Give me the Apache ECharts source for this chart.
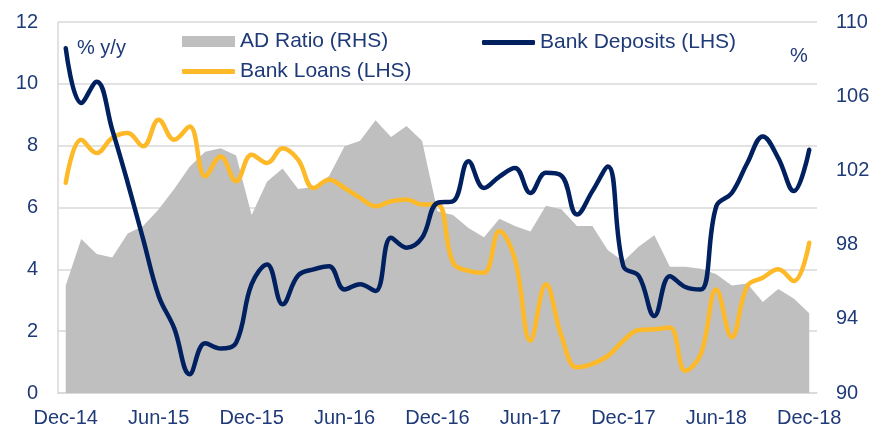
<!DOCTYPE html>
<html>
<head>
<meta charset="utf-8">
<script src="https://cdn.jsdelivr.net/npm/echarts@6/dist/echarts.min.js"></script>
<style>
  html, body { margin: 0; padding: 0; background: #fff; }
  #chart { width: 873px; height: 428px; }
</style>
</head>
<body>
<div id="chart"></div>
<script>
const months = [
  'Dec-14', 'Jan-15', 'Feb-15', 'Mar-15', 'Apr-15', 'May-15', 'Jun-15', 'Jul-15', 'Aug-15', 'Sep-15', 'Oct-15', 'Nov-15',
  'Dec-15', 'Jan-16', 'Feb-16', 'Mar-16', 'Apr-16', 'May-16', 'Jun-16', 'Jul-16', 'Aug-16', 'Sep-16', 'Oct-16', 'Nov-16',
  'Dec-16', 'Jan-17', 'Feb-17', 'Mar-17', 'Apr-17', 'May-17', 'Jun-17', 'Jul-17', 'Aug-17', 'Sep-17', 'Oct-17', 'Nov-17',
  'Dec-17', 'Jan-18', 'Feb-18', 'Mar-18', 'Apr-18', 'May-18', 'Jun-18', 'Jul-18', 'Aug-18', 'Sep-18', 'Oct-18', 'Nov-18',
  'Dec-18'
]

// advances / deposits ratio, right axis (%)
const adRatio = [
  95.8, 98.3, 97.5, 97.3, 98.6, 99.0, 99.9, 101.0, 102.2, 103.0, 103.2, 102.8,
  99.6, 101.4, 102.1, 101.0, 101.1, 101.7, 103.3, 103.6, 104.7, 103.8, 104.4, 103.6,
  99.8, 99.6, 98.9, 98.4, 99.4, 99.0, 98.7, 100.1, 99.9, 99.0, 99.0, 97.7,
  97.1, 97.9, 98.5, 96.8, 96.8, 96.7, 96.4, 95.8, 95.9, 94.9, 95.6, 95.1,
  94.3
]

// % y/y, left axis
const bankDeposits = [
  11.15, 9.38, 10.07, 8.52, 6.8, 4.97, 3.14, 2.1, 0.61, 1.61, 1.44, 1.63,
  3.52, 4.16, 2.87, 3.8, 4.0, 4.1, 3.35, 3.52, 3.3, 5.02, 4.7, 5.02,
  6.15, 6.2, 7.5, 6.63, 7.0, 7.28, 6.47, 7.12, 7.03, 5.77, 6.53, 7.33,
  4.1, 3.78, 2.49, 3.78, 3.43, 3.35, 6.04, 6.47, 7.44, 8.3, 7.6, 6.53,
  7.87
]

const bankLoans = [
  6.8, 8.19, 7.76, 8.25, 8.41, 7.98, 8.84, 8.19, 8.62, 7.01, 7.65, 6.85,
  7.71, 7.44, 7.92, 7.55, 6.63, 6.9, 6.63, 6.31, 6.04, 6.2, 6.26, 6.1,
  6.1, 4.22, 3.95, 3.89, 5.24, 4.32, 1.69, 3.52, 1.85, 0.83, 0.94, 1.2,
  1.69, 2.04, 2.06, 2.12, 0.72, 1.26, 3.35, 1.8, 3.46, 3.73, 4.0, 3.62,
  4.86
]

const leftTicks = { min: 0, max: 12, interval: 2 }
const rightTicks = { min: 90, max: 110, interval: 4 }

const TEXT_COLOR = '#1F3A78'
const NAVY = '#002060'
const GOLD = '#FDB927'
const GREY_AREA = '#BFBFBF'
const GRID_COLOR = '#D9D9D9'
const FONT = 'Liberation Sans'

const chart = echarts.init(document.getElementById('chart'))

const legendBase = {
  orient: 'horizontal',
  padding: 0,
  itemWidth: 53,
  itemGap: 10,
  textStyle: { color: TEXT_COLOR, fontSize: 21, fontFamily: FONT },
  selectedMode: false
}

chart.setOption({
  animation: false,
  grid: { left: 58, right: 56, top: 22, bottom: 34 },
  legend: [
    Object.assign({}, legendBase, {
      left: 182, top: 31, itemHeight: 11,
      data: [{ name: 'AD Ratio (RHS)', icon: 'rect' }]
    }),
    Object.assign({}, legendBase, {
      left: 182, top: 61, itemHeight: 5,
      data: [{ name: 'Bank Loans (LHS)', icon: 'roundRect' }]
    }),
    Object.assign({}, legendBase, {
      left: 482, top: 32, itemHeight: 5,
      data: [{ name: 'Bank Deposits (LHS)', icon: 'roundRect' }]
    })
  ],
  graphic: [
    {
      type: 'text',
      left: 77,
      top: 38,
      style: { text: '% y/y', fill: TEXT_COLOR, fontSize: 20, fontFamily: FONT }
    },
    {
      type: 'text',
      left: 790,
      top: 46,
      style: { text: '%', fill: TEXT_COLOR, fontSize: 20, fontFamily: FONT }
    }
  ],
  xAxis: {
    type: 'category',
    data: months,
    boundaryGap: true,
    axisLine: { show: true, lineStyle: { color: GRID_COLOR, width: 1.5 } },
    axisTick: { show: false },
    axisLabel: {
      interval: 5,
      color: TEXT_COLOR,
      fontSize: 20,
      fontFamily: FONT,
      margin: 15
    },
    splitLine: { show: false }
  },
  yAxis: [
    {
      type: 'value',
      min: leftTicks.min,
      max: leftTicks.max,
      interval: leftTicks.interval,
      axisLine: { show: true, lineStyle: { color: GRID_COLOR, width: 1.5 } },
      axisTick: { show: false },
      axisLabel: { color: TEXT_COLOR, fontSize: 20, fontFamily: FONT, margin: 20 },
      splitLine: { show: true, lineStyle: { color: GRID_COLOR, width: 1.5 } }
    },
    {
      type: 'value',
      position: 'right',
      min: rightTicks.min,
      max: rightTicks.max,
      interval: rightTicks.interval,
      axisLine: { show: false },
      axisTick: { show: false },
      axisLabel: { color: TEXT_COLOR, fontSize: 20, fontFamily: FONT, margin: 19 },
      splitLine: { show: false }
    }
  ],
  series: [
    {
      name: 'AD Ratio (RHS)',
      type: 'line',
      yAxisIndex: 1,
      data: adRatio,
      symbol: 'none',
      lineStyle: { width: 0, color: GREY_AREA },
      itemStyle: { color: GREY_AREA },
      areaStyle: { color: GREY_AREA, opacity: 1, origin: 'start' },
      z: 1
    },
    {
      name: 'Bank Deposits (LHS)',
      type: 'line',
      yAxisIndex: 0,
      data: bankDeposits,
      symbol: 'none',
      smooth: 0.4,
      lineStyle: { width: 4.5, color: NAVY, cap: 'round' },
      itemStyle: { color: NAVY },
      z: 3
    },
    {
      name: 'Bank Loans (LHS)',
      type: 'line',
      yAxisIndex: 0,
      data: bankLoans,
      symbol: 'none',
      smooth: 0.4,
      lineStyle: { width: 4.5, color: GOLD, cap: 'round' },
      itemStyle: { color: GOLD },
      z: 2
    }
  ]
})
</script>
</body>
</html>
